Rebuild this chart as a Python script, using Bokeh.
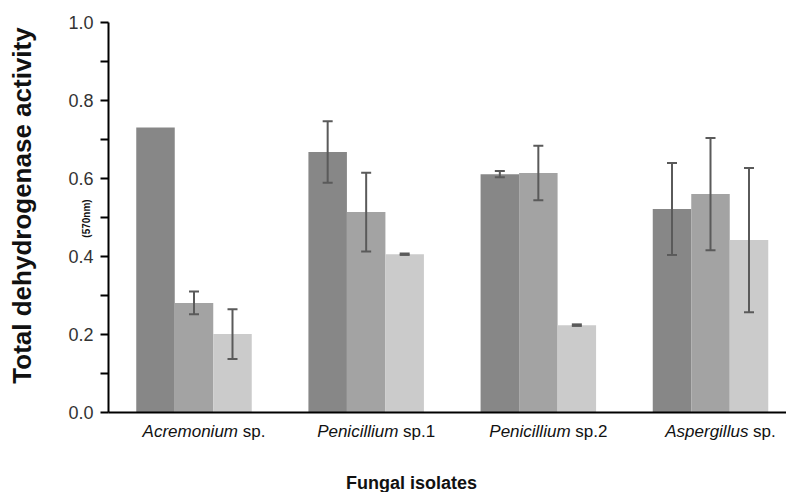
import math
from bokeh.plotting import figure
from bokeh.models import (ColumnDataSource, Range1d, FixedTicker, PrintfTickFormatter,
                          Whisker, TeeHead, Label)
from bokeh.embed import file_html
from bokeh.resources import INLINE

# ---------------- data ----------------
genus = ["Acremonium", "Penicillium", "Penicillium", "Aspergillus"]
suffix = ["sp.", "sp.1", "sp.2", "sp."]
series_1 = [0.731, 0.668, 0.611, 0.522]
err_1 = [0.0, 0.079, 0.008, 0.118]
series_2 = [0.281, 0.514, 0.614, 0.560]
err_2 = [0.029, 0.101, 0.070, 0.144]
series_3 = [0.201, 0.406, 0.224, 0.442]
err_3 = [0.064, 0.002, 0.002, 0.185]
y_major = [0.0, 0.2, 0.4, 0.6, 0.8, 1.0]
y_minor = [0.1, 0.3, 0.5, 0.7, 0.9]
y_title = "Total dehydrogenase activity"
y_subtitle = "(570nm)"
x_title = "Fungal isolates"

# ---------------- layout (pixel geometry of the whole canvas) ----------------
W, H = 786, 492
AXIS_X = 108            # pixel column of the y axis
Y0_PX, Y1_PX = 412, 22  # pixel rows of value 0 and value 1
G0_PX, G3_PX = 193.5, 710.0  # pixel centres of first and last group
PX_PER_X = (G3_PX - G0_PX) / 3.0
PX_PER_Y = (Y0_PX - Y1_PX) / 1.0

def dx(px):
    return (px - G0_PX) / PX_PER_X

def dy(py):
    return (Y0_PX - py) / PX_PER_Y

X_START, X_END = dx(0), dx(W)
Y_START, Y_END = dy(H), dy(0)

FONT = "Liberation Sans"
colors = ["#878787", "#a3a3a3", "#cbcbcb"]
bar_w = 38.5 / PX_PER_X
offsets = [-bar_w, 0.0, bar_w]

p = figure(width=W, height=H, output_backend="svg", toolbar_location=None,
           x_range=Range1d(X_START, X_END), y_range=Range1d(Y_START, Y_END),
           min_border=0, min_border_left=0, min_border_right=0,
           min_border_top=0, min_border_bottom=0)
p.outline_line_color = None
p.grid.visible = False
p.background_fill_color = "white"
p.border_fill_color = "white"

for vals, errs, off, col in zip([series_1, series_2, series_3], [err_1, err_2, err_3], offsets, colors):
    xs = [i + off for i in range(len(vals))]
    src = ColumnDataSource(dict(x=xs, top=vals))
    p.vbar(x="x", top="top", bottom=0, width=bar_w, source=src, fill_color=col, line_color=None)
    wx, wu, wl = [], [], []
    for x, v, e in zip(xs, vals, errs):
        if e > 0:
            wx.append(x); wu.append(v + e); wl.append(v - e)
    wsrc = ColumnDataSource(dict(x=wx, upper=wu, lower=wl))
    wh = Whisker(source=wsrc, base="x", upper="upper", lower="lower", dimension="height",
                 line_color="#5a5a5a", line_width=2, level="overlay",
                 upper_head=TeeHead(size=10, line_color="#5a5a5a", line_width=2),
                 lower_head=TeeHead(size=10, line_color="#5a5a5a", line_width=2))
    p.add_layout(wh)

# y axis, drawn at a fixed location inside the canvas
yax = p.yaxis[0]
yax.fixed_location = dx(AXIS_X)
yax.bounds = (0, 1.0)
yax.ticker = FixedTicker(ticks=y_major, minor_ticks=y_minor)
yax.formatter = PrintfTickFormatter(format="%.1f")
yax.axis_line_color = "black"
yax.axis_line_width = 2
yax.major_tick_out = 8
yax.major_tick_in = 0
yax.minor_tick_out = 8
yax.minor_tick_in = 0
yax.major_tick_line_width = 2
yax.minor_tick_line_width = 2
yax.major_tick_line_color = "black"
yax.minor_tick_line_color = "black"
yax.major_label_standoff = 7
yax.major_label_text_font = FONT
yax.major_label_text_font_size = "18px"
yax.major_label_text_color = "#333333"

# x axis at value 0
xax = p.xaxis[0]
xax.fixed_location = 0
xax.bounds = (dx(AXIS_X), X_END)
xax.ticker = FixedTicker(ticks=[])
xax.axis_line_color = "black"
xax.axis_line_width = 2
xax.major_tick_line_color = None
xax.minor_tick_line_color = None
xax.major_label_text_font_size = "0px"

# category labels: italic genus + upright suffix (Arial-metric advance widths)
adv = {'A': 667, 'P': 667, 'c': 500, 'r': 333, 'e': 556, 'm': 833, 'o': 556, 'n': 556,
       'i': 222, 'u': 556, 'l': 222, 's': 500, 'p': 556, 'g': 556, '.': 278, ' ': 278,
       '1': 556, '2': 556}

def tw(s, fs):
    return sum(adv.get(ch, 556) for ch in s) * fs / 1000.0

cat_fs = 17
shift = 10
base_y = dy(431)
for i, (g, s) in enumerate(zip(genus, suffix)):
    wg = tw(g, cat_fs) + tw(" ", cat_fs)
    total = wg + tw(s, cat_fs)
    start = shift - total / 2
    p.add_layout(Label(x=i, y=base_y, x_offset=start, text=g, text_font=FONT,
                       text_font_style="italic", text_font_size=f"{cat_fs}px",
                       text_color="#111111", text_align="left", text_baseline="alphabetic"))
    p.add_layout(Label(x=i, y=base_y, x_offset=start + wg, text=s, text_font=FONT,
                       text_font_size=f"{cat_fs}px", text_color="#111111",
                       text_align="left", text_baseline="alphabetic"))

# titles
p.add_layout(Label(x=dx(21), y=dy(205), text=y_title, angle=math.pi / 2,
                   text_font=FONT, text_font_style="bold", text_font_size="26px",
                   text_color="#111111", text_align="center", text_baseline="middle"))
p.add_layout(Label(x=dx(86), y=dy(218), text=y_subtitle, angle=math.pi / 2,
                   text_font=FONT, text_font_style="bold", text_font_size="10px",
                   text_color="#111111", text_align="center", text_baseline="middle"))
p.add_layout(Label(x=dx(411), y=dy(482), text=x_title,
                   text_font=FONT, text_font_style="bold", text_font_size="18px",
                   text_color="#111111", text_align="center", text_baseline="alphabetic"))

open("out.html", "w").write(file_html(p, INLINE))
